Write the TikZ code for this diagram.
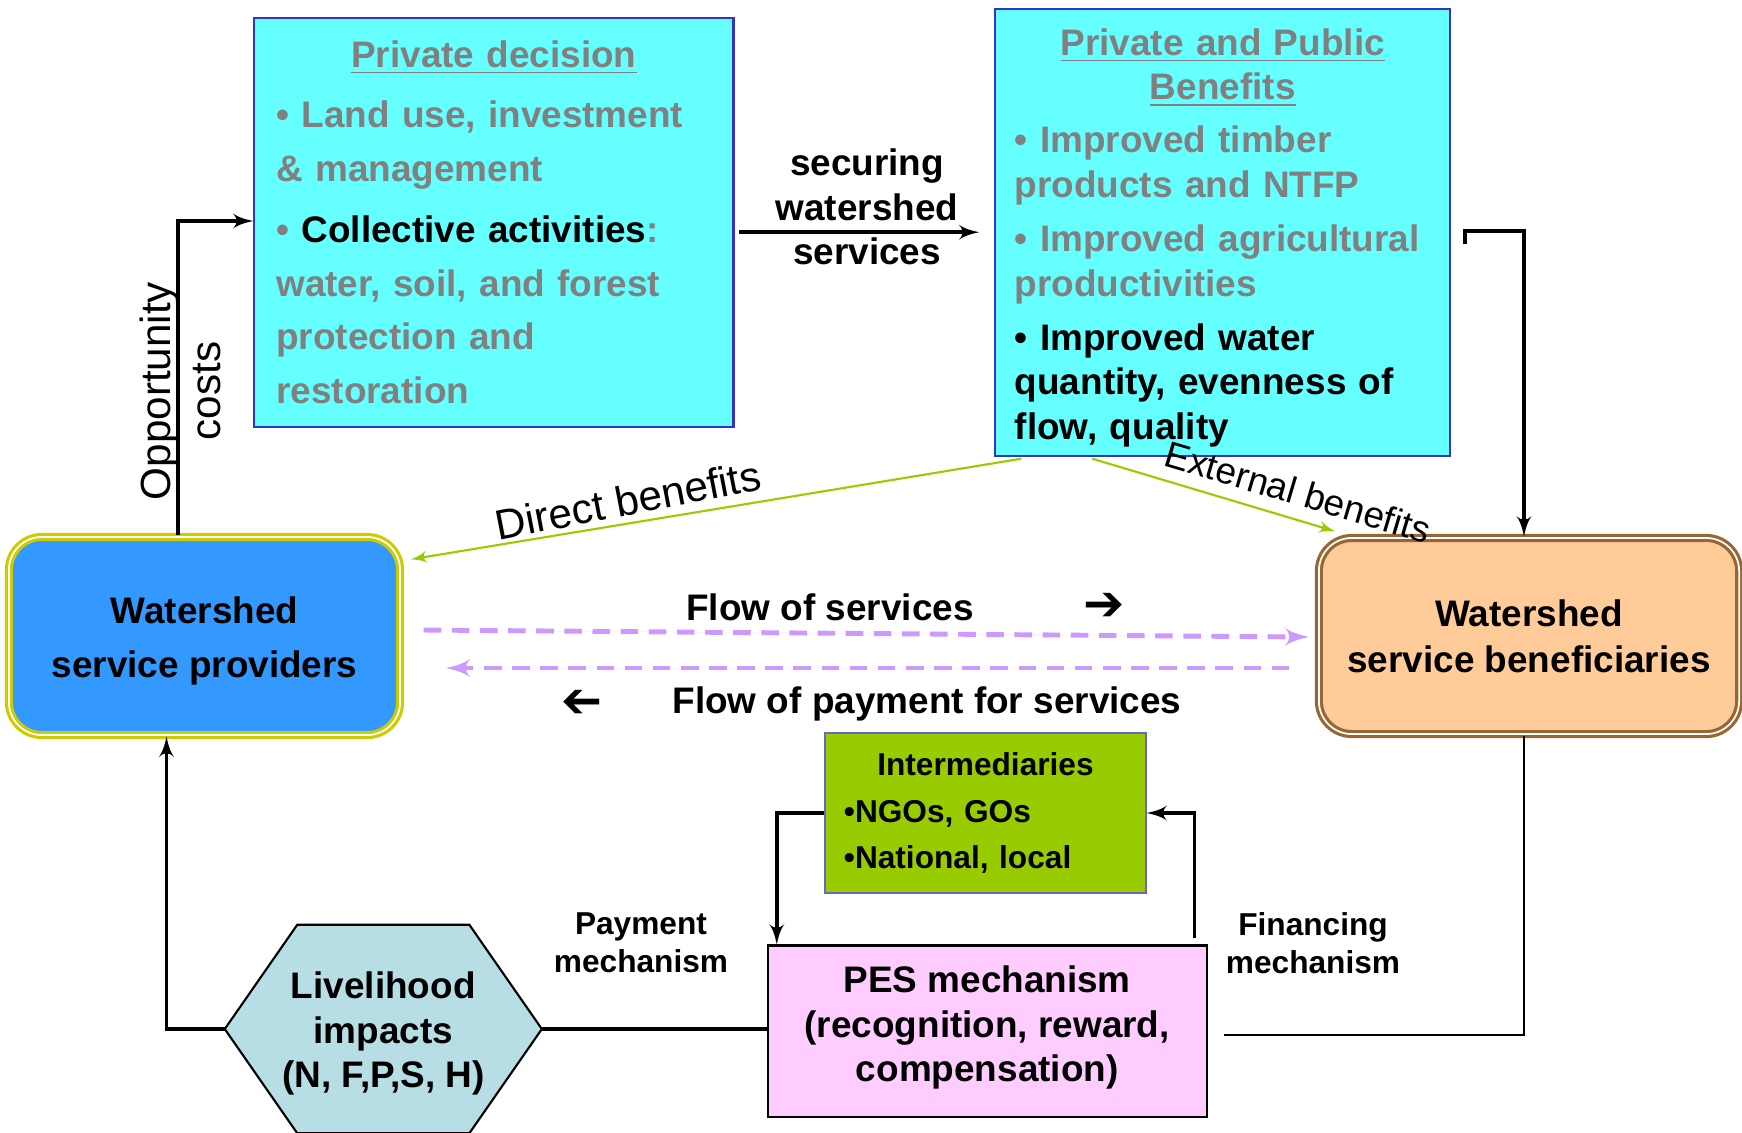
\documentclass[tikz,border=0pt]{standalone}
\usepackage{fontspec}
\setmainfont{Liberation Sans}
\newfontfamily\symbfont{DejaVu Sans}
\usetikzlibrary{arrows,positioning,calc,backgrounds}

\definecolor{benefitcyan}{HTML}{66FFFF}
\definecolor{boxline}{HTML}{3333CC}
\definecolor{textgray}{HTML}{808080}
\definecolor{providerblue}{HTML}{3399FF}
\definecolor{provideredge}{HTML}{CCCC00}
\definecolor{beneforange}{HTML}{FFCC99}
\definecolor{benefedge}{HTML}{996633}
\definecolor{intergreen}{HTML}{99CC00}
\definecolor{interedge}{HTML}{6666CC}
\definecolor{pespink}{HTML}{FFCCFF}
\definecolor{hexblue}{HTML}{B7DEE4}
\definecolor{flowgreen}{HTML}{99CC00}
\definecolor{flowlilac}{HTML}{CC99FF}

\tikzset{
    %Define standard arrow tip
    >=latex',
    %Define style for boxes
    infobox/.style={
           rectangle,
           draw=boxline, line width=0.6pt,
           fill=benefitcyan,
           inner ysep=0pt,
           align=left,
           text=textgray},
    actorbox/.style={
           rectangle,
           rounded corners=0.33cm,
           line width=0.9pt,
           double=white, double distance=0.5pt,
           align=center,
           font=\bfseries\fontsize{10.5}{15.4}\selectfont},
    interbox/.style={
           rectangle,
           draw=interedge, line width=0.6pt,
           fill=intergreen,
           align=left,
           inner xsep=0.185cm,
           text width=2.83cm,
           minimum height=1.6cm,
           font=\bfseries\fontsize{9}{13.1}\selectfont},
    pesbox/.style={
           rectangle,
           draw=black, line width=0.6pt,
           fill=pespink,
           align=center,
           minimum width=4.385cm,
           minimum height=1.71cm,
           font=\bfseries\fontsize{10.5}{12.7}\selectfont},
    hexbox/.style={
           rectangle,
           align=center,
           inner sep=0pt,
           minimum width=3.155cm,
           minimum height=2.07cm,
           font=\bfseries\fontsize{10.5}{12.7}\selectfont},
    hexline/.style={
           draw=black, line width=0.6pt,
           fill=hexblue},
    boxtext/.style={font=\bfseries\fontsize{10.5}{#1}\selectfont},
    mechlabel/.style={align=center, font=\bfseries\fontsize{9}{10.8}\selectfont},
    flowlabel/.style={font=\bfseries\fontsize{10.5}{12}\selectfont},
    flowsign/.style={font=\symbfont\bfseries\fontsize{14}{14}\selectfont},
    benlabel/.style={font=\fontsize{#1}{14}\selectfont},
    % Define arrow styles
    pil/.style={
           ->,
           line width=1pt},
    greenpil/.style={
           ->,
           draw=flowgreen, fill=flowgreen,
           line width=0.6pt},
    flowpil/.style={
           ->,
           draw=flowlilac, fill=flowlilac,
           line width=1.4pt,
           dash pattern=on 5pt off 3pt}
}

\begin{document}
\begin{tikzpicture}[x=0.01cm,y=-0.01cm]
\useasboundingbox (0,0) rectangle (1742,1132);

 %nodes
\node[infobox, boxtext=15.2, inner xsep=0.22cm, text width=4.349cm,
      minimum height=4.088cm] (pd) at (493.9,222.2) {%
  \makebox[\linewidth]{\underline{Private decision}}\\[2pt]
  • Land use, investment\\
  \& management\\[2.3pt]
  • {\color{black}Collective activities}:\\
  water, soil, and forest\\
  protection and\\
  restoration};
\node[infobox, boxtext=12.6, inner xsep=0.195cm, text width=4.155cm,
      minimum height=4.466cm] (ben) at (1222.7,232.2) {%
  \rule{0pt}{10.7pt}\makebox[\linewidth]{\underline{Private and Public}}\\
  \makebox[\linewidth]{\underline{Benefits}}\\[2.5pt]
  • Improved timber\\
  products and NTFP\\[3pt]
  • Improved agricultural\\
  productivities\\[2.8pt]
  {\color{black}• Improved water}\\
  {\color{black}quantity, evenness of}\\
  {\color{black}flow, quality}};
\node[actorbox, draw=provideredge, fill=providerblue, minimum width=3.91cm,
      minimum height=1.98cm] (prov) at (204.5,636) {\rule{0pt}{10.2pt}Watershed\\service providers};
\node[actorbox, draw=benefedge, fill=beneforange, minimum width=4.2cm,
      minimum height=1.96cm, font=\bfseries\fontsize{10.5}{13}\selectfont]
      (benf) at (1529,636) {Watershed\\service beneficiaries};
\node[interbox] (inter) at (985.5,813) {%
  \makebox[\linewidth]{Intermediaries}\\
  •NGOs, GOs\\
  •National, local};
\node[pesbox] (pes) at (987.2,1031) {PES mechanism\\(recognition, reward,\\compensation)\rule[-4.1pt]{0pt}{0pt}};
\node[hexbox] (live) at (383.3,1029) {\rule{0pt}{10.2pt}Livelihood\\impacts\\(N, F,P,S, H)};
\begin{scope}[on background layer]
\draw[hexline] (live.west) -- ($(live.north west)+(72.5,0)$) -- ($(live.north east)+(-72.5,0)$)
   -- (live.east) -- ($(live.south east)+(-72.5,0)$) -- ($(live.south west)+(72.5,0)$) -- cycle;
\end{scope}

 %labels
\node[boxtext=12.6, align=center] (sec) at (867,207) {securing\\watershed\\services};
\node[flowlabel] (fs) at (830,607) {Flow of services};
\node[flowsign, right=0.85cm of fs] (fsarrow) {➔};
\node[flowlabel] (fp) at (927,704) {Flow of payment for services};
\node[flowsign, left=0.45cm of fp] (fparrow) {\reflectbox{➔}};
\node[benlabel=12, rotate=11] (direct) at (628,500) {Direct benefits};
\node[benlabel=10.5, rotate=-16.5] (external) at (1298,492) {External benefits};
\node[rotate=90, align=center, font=\fontsize{12}{14.2}\selectfont] (opp) at (180,391) {Opportunity\\costs};
\node[mechlabel] (paym) at (641,943) {Payment\\mechanism};
\node[mechlabel] (finm) at (1313,943) {Financing\\mechanism};

 %connectors
\coordinate (oppturn) at (178,221);
\draw[pil] (prov.north -| oppturn) |- (pd.west |- oppturn);
\draw[pil, shorten <=1.4pt, shorten >=4.3pt] (pd.east |- ben.west) -- (ben.west);
\draw[pil] ($(ben.east)+(14,12)$) -- ++(0,-13) -| ($(benf.north)+(-5,0)$);
\draw[greenpil] ($(ben.south west)+(27,2)$) -- ($(prov.north east)+(9,24)$);
\draw[greenpil] ($(ben.south west)+(98,2)$) -- ($(benf.north west)+(18,-5)$);
\draw[flowpil] ($(prov.east)+(22,-6)$) -- ($(benf.west)+(-8,1)$);
\draw[flowpil] ($(benf.west)+(-28,32)$) -- ($(prov.east)+(44,32)$);
\draw[pil] (live.west) -| ($(prov.south)+(-38,0)$);
\draw[pil, -] (live.east) -- (live.east -| pes.west);
\draw[pil] (inter.west) -| ($(pes.north west)+(10,0)$);
\draw[pil] ($(pes.north east)+(-13,-6)$) |- (inter.east);
\draw[pil, -, line width=0.7pt] ($(benf.south)+(-5,0)$) |- ($(pes.east)+(16,4)$);

\end{tikzpicture}
\end{document}
